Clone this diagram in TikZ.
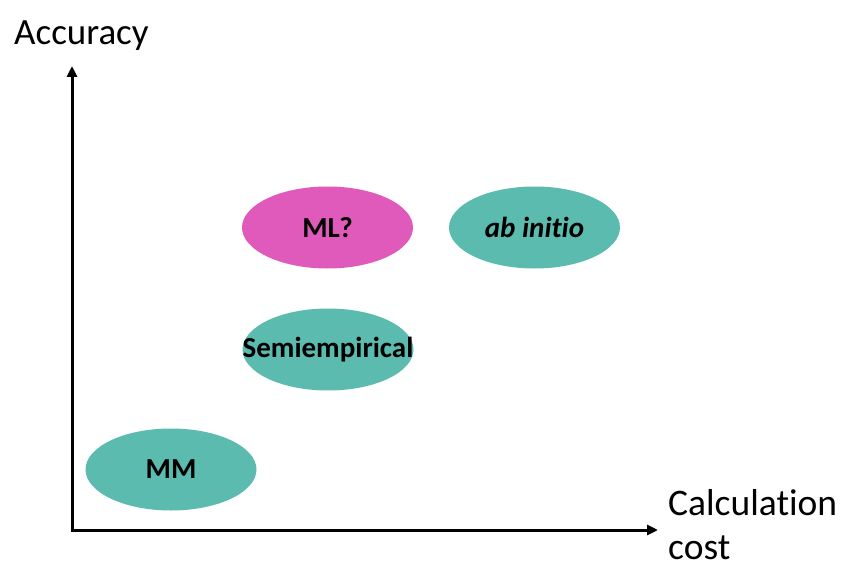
\documentclass[tikz,border=0pt]{standalone}
\usepackage{fontspec}
\setmainfont{Carlito}[Ligatures={NoCommon}]
\usetikzlibrary{shapes.geometric,arrows.meta}
\definecolor{tealfill}{RGB}{91,187,175}
\definecolor{pinkfill}{RGB}{224,90,187}
\tikzset{
  method/.style={ellipse, fill=tealfill, minimum width=171pt, minimum height=82pt,
    inner sep=0pt, font=\fontsize{29}{34}\selectfont\bfseries},
  axis/.style={line width=3pt, -{Triangle[length=11pt,width=10pt]}},
  axislabel/.style={font=\fontsize{37.5}{44}\selectfont, inner sep=0pt}
}
\begin{document}
\begin{tikzpicture}[x=1pt,y=-1pt]
  \useasboundingbox (0,0) rectangle (846,567);
  % axes
  \coordinate (origin) at (72,530);
  \coordinate (ytip) at (72,66);
  \coordinate (xtip) at (658,530);
  \draw[axis] ([yshift=1.5pt]origin) -- (ytip);
  \draw[axis] ([xshift=-1.5pt]origin) -- (xtip);
  \node[axislabel, font=\fontsize{37}{44}\selectfont, anchor=base west] (ylab) at (14,45) {Accuracy};
  \node[axislabel, anchor=base west, align=left, text depth=0pt] (xlab) at (668,559) {Calculation\\cost};
  % methods
  \node[method, fill=pinkfill] (ml) at (327.5,227.5) {ML?};
  \node[method] (abi) at (534.5,227.5) {\itshape ab initio};
  \node[method, inner xsep=-40pt] (semi) at (328,349.5) {Semiempirical};
  \node[method] (mm) at (171,469.5) {MM};
\end{tikzpicture}
\end{document}
